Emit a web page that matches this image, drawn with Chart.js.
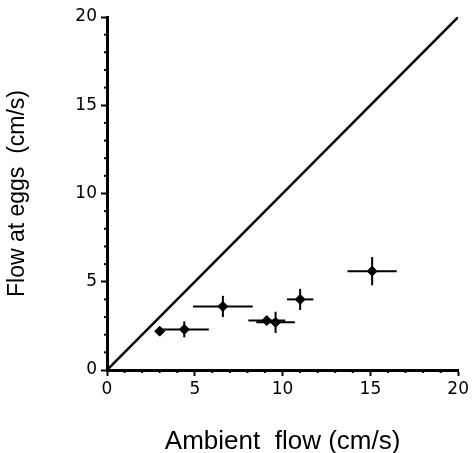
<!DOCTYPE html>
<html>
<head>
<meta charset="utf-8">
<title>Flow at eggs</title>
<script src="https://cdn.jsdelivr.net/npm/chart.js"></script>
<style>
  html, body { margin: 0; padding: 0; background: #fff; }
  .wrap { position: relative; width: 472px; height: 453px; }
</style>
</head>
<body>
<div class="wrap"><canvas id="flowChart"></canvas></div>
<script>
// data
const ambientFlow = [3.0, 4.4, 6.6, 9.1, 9.6, 11.0, 15.1];
const eggFlow     = [2.2, 2.3, 3.6, 2.8, 2.7, 4.0, 5.6];
const ambientErr  = [0, 1.4, 1.7, 1.05, 1.1, 0.75, 1.4];
const eggErr      = [0, 0.45, 0.6, 0.25, 0.6, 0.6, 0.8];
const unityLine   = [0, 20];
const tickLabels  = [0, 5, 10, 15, 20];

// error bars + short minor ticks
const errorBars = {
  id: 'errorBars',
  afterDatasetsDraw(chart) {
    const ctx = chart.ctx, xs = chart.scales.x, ys = chart.scales.y;
    ctx.save();
    ctx.strokeStyle = '#000';
    ctx.lineWidth = 2;
    ambientFlow.forEach((a, i) => {
      const e = eggFlow[i];
      const px = xs.getPixelForValue(a), py = ys.getPixelForValue(e);
      if (ambientErr[i] > 0) {
        ctx.beginPath();
        ctx.moveTo(xs.getPixelForValue(a - ambientErr[i]), py);
        ctx.lineTo(xs.getPixelForValue(a + ambientErr[i]), py);
        ctx.stroke();
      }
      if (eggErr[i] > 0) {
        ctx.beginPath();
        ctx.moveTo(px, ys.getPixelForValue(e - eggErr[i]));
        ctx.lineTo(px, ys.getPixelForValue(e + eggErr[i]));
        ctx.stroke();
      }
    });
    // minor ticks every 1 unit
    for (let v = 1; v < 20; v++) {
      if (v % 5 === 0) continue;
      const x = xs.getPixelForValue(v);
      ctx.beginPath();
      ctx.moveTo(x, xs.top);
      ctx.lineTo(x, xs.top + 3);
      ctx.stroke();
      const y = ys.getPixelForValue(v);
      ctx.beginPath();
      ctx.moveTo(ys.right, y);
      ctx.lineTo(ys.right - 3, y);
      ctx.stroke();
    }
    ctx.restore();
  }
};

const tickFont = { family: 'DejaVu Sans', size: 17 };

const ctx = document.getElementById('flowChart').getContext('2d');
const flowChart = new Chart(ctx, {
  type: 'scatter',
  data: {
    datasets: [
      {
        type: 'line',
        data: unityLine.map(v => ({ x: v, y: v })),
        borderColor: '#000',
        borderWidth: 2.5,
        pointRadius: 0,
        fill: false
      },
      {
        data: ambientFlow.map((a, i) => ({ x: a, y: eggFlow[i] })),
        pointStyle: 'rectRot',
        pointRadius: 5,
        backgroundColor: '#000',
        borderColor: '#000'
      }
    ]
  },
  options: {
    responsive: true,
    maintainAspectRatio: false,
    animation: false,
    layout: { padding: { top: 17, right: 13, left: 0, bottom: 0 } },
    plugins: { legend: { display: false }, tooltip: { enabled: false } },
    scales: {
      x: {
        type: 'linear',
        min: 0, max: 20,
        afterFit(scale) { scale.height = 83; },
        afterBuildTicks(scale) { scale.ticks = tickLabels.map(v => ({ value: v })); },
        border: { color: '#000', width: 3 },
        grid: { drawOnChartArea: false, tickLength: 6, tickWidth: 2, tickColor: '#000' },
        ticks: { color: '#000', padding: 3, font: tickFont },
        title: {
          display: true,
          text: 'Ambient  flow (cm/s)',
          color: '#000',
          padding: { top: 19, bottom: -4 },
          font: { family: 'Liberation Sans, Arial', size: 26 }
        }
      },
      y: {
        type: 'linear',
        min: 0, max: 20,
        afterFit(scale) { scale.width = 107; },
        afterBuildTicks(scale) { scale.ticks = tickLabels.map(v => ({ value: v })); },
        border: { color: '#000', width: 3 },
        grid: { drawOnChartArea: false, tickLength: 6, tickWidth: 2, tickColor: '#000' },
        ticks: { color: '#000', padding: 4, font: tickFont },
        title: {
          display: true,
          text: 'Flow at eggs  (cm/s)',
          color: '#000',
          padding: { bottom: 0, top: 4 },
          font: { family: 'Liberation Sans, Arial', size: 23 }
        }
      }
    }
  },
  plugins: [errorBars]
});
</script>
</body>
</html>
